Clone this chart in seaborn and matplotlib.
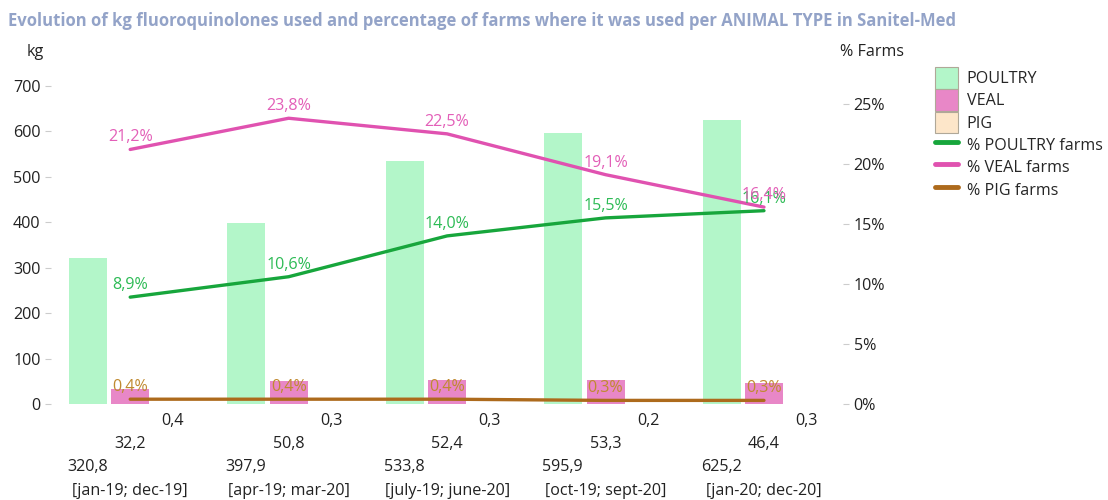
import matplotlib
matplotlib.use("Agg")
import matplotlib.pyplot as plt
import seaborn as sns
import numpy as np
import pandas as pd
from matplotlib.patches import Patch
from matplotlib.lines import Line2D

sns.set_theme(style="white")
plt.rcParams['font.family'] = ['Open Sans', 'DejaVu Sans']

periods = ["[jan-19; dec-19]", "[apr-19; mar-20]", "[july-19; june-20]",
           "[oct-19; sept-20]", "[jan-20; dec-20]"]
animals = ["POULTRY", "VEAL", "PIG"]
kg_poultry = [320.8, 397.9, 533.8, 595.9, 625.2]
kg_veal = [32.2, 50.8, 52.4, 53.3, 46.4]
kg_pig = [0.4, 0.3, 0.3, 0.2, 0.3]
pct_poultry = [8.9, 10.6, 14.0, 15.5, 16.1]
pct_veal = [21.2, 23.8, 22.5, 19.1, 16.4]
pct_pig = [0.4, 0.4, 0.4, 0.3, 0.3]

bar_colors = {"POULTRY": "#b3f6c9", "VEAL": "#e887c7", "PIG": "#fde6c9"}
line_colors = {"POULTRY": "#17a63c", "VEAL": "#e052b0", "PIG": "#ad6a1c"}
label_colors = {"POULTRY": "#2dbb55", "VEAL": "#e35fb8", "PIG": "#c08a30"}

FS = 11.6

df = pd.DataFrame({
    "period": periods * 3,
    "animal": ["POULTRY"] * 5 + ["VEAL"] * 5 + ["PIG"] * 5,
    "kg": kg_poultry + kg_veal + kg_pig,
})

fig = plt.figure(figsize=(11.08, 5.0), dpi=100)
ax = fig.add_axes([0.046, 0.192, 0.715, 0.664])

sns.barplot(data=df, x="period", y="kg", hue="animal", hue_order=animals,
            order=periods, palette=bar_colors, ax=ax, gap=0.1, width=0.8,
            legend=False, errorbar=None, linewidth=0, saturation=1)

ax.set_xlim(-0.5, 4.5)
ax.set_ylim(0, 730)
ax.set_yticks([0, 100, 200, 300, 400, 500, 600, 700])
ax.set_xlabel("")
ax.set_ylabel("")
ax.set_xticks(range(5))
ax.set_xticklabels(periods)
ax.tick_params(axis="x", length=0, pad=57, labelsize=FS, colors="#222222")
ax.tick_params(axis="y", length=4, color="#cccccc", width=0.8, labelsize=FS,
               labelcolor="#222222", left=True)
for s in ax.spines.values():
    s.set_visible(False)
ax.grid(False)

# bar value annotations below the axis
offs = {"POULTRY": -0.27, "VEAL": 0.0, "PIG": 0.27}
ylev = {"POULTRY": -63, "VEAL": -40, "PIG": -17}
for name, vals in zip(animals, [kg_poultry, kg_veal, kg_pig]):
    for i, v in enumerate(vals):
        ax.annotate(f"{v:.1f}".replace(".", ","), xy=(i + offs[name], 0),
                    xycoords=("data", "axes fraction"),
                    xytext=(0, ylev[name]), textcoords="offset pixels",
                    ha="center", va="center", fontsize=FS, color="#222222")

ax2 = ax.twinx()
x = np.arange(5)
for name, vals in zip(animals, [pct_poultry, pct_veal, pct_pig]):
    sns.lineplot(x=x, y=vals, ax=ax2, color=line_colors[name], linewidth=2.4,
                 legend=False)
    for i, v in enumerate(vals):
        ax2.annotate(f"{v:.1f}%".replace(".", ","), xy=(i, v),
                     xytext=(0, 4), textcoords="offset pixels",
                     ha="center", va="bottom", fontsize=FS,
                     color=label_colors[name])

ax2.set_ylim(0, 730 / 26.4)
ax2.set_yticks([0, 5, 10, 15, 20, 25])
ax2.set_yticklabels([f"{t}%" for t in [0, 5, 10, 15, 20, 25]])
ax2.tick_params(axis="y", length=4, color="#cccccc", width=0.8, labelsize=FS,
                labelcolor="#222222", right=True)
ax2.set_xlim(-0.5, 4.5)
for s in ax2.spines.values():
    s.set_visible(False)
ax2.grid(False)

fig.text(0.007, 0.958, "Evolution of kg fluoroquinolones used and percentage of farms where it was used per ANIMAL TYPE in Sanitel-Med",
         fontsize=12, fontweight="bold", color="#93a3c8", ha="left", va="center")
fig.text(0.024, 0.897, "kg", fontsize=FS, color="#222222", ha="left", va="center")
fig.text(0.758, 0.897, "% Farms", fontsize=FS, color="#222222", ha="left", va="center")

handles = [Patch(facecolor=bar_colors[a], edgecolor="#b0a898", linewidth=0.8, label=a) for a in animals]
handles += [Line2D([0], [0], color=line_colors[a], linewidth=3.5, label=f"% {a} farms") for a in animals]
fig.legend(handles=handles, loc="upper left", bbox_to_anchor=(0.844, 0.866),
           frameon=False, fontsize=FS, handlelength=1.4, handleheight=1.68,
           handletextpad=0.55, labelspacing=0.05, borderaxespad=0, borderpad=0)

fig.savefig("out.png", dpi=100)
